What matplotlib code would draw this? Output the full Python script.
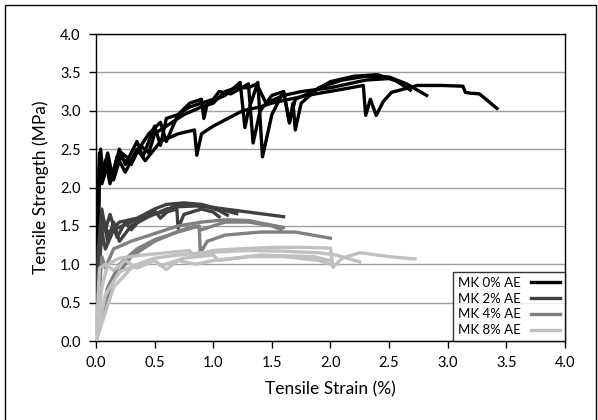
import matplotlib
matplotlib.use("Agg")
import matplotlib.pyplot as plt
from matplotlib.patches import Rectangle

plt.rcParams.update({"font.family": "Lato", "font.size": 10})

# strain (%) / stress (MPa), one list pair per specimen
K1_x = [0, 0.02, 0.03, 0.05, 0.08, 0.12, 0.18, 0.25, 0.35, 0.42, 0.55, 0.7, 0.84, 0.86, 0.9,
        1.0, 1.1, 1.25, 1.4, 1.5, 1.65, 1.8, 1.91, 2.1, 2.28, 2.3, 2.34, 2.39, 2.45, 2.52,
        2.74, 2.95, 3.13, 3.15, 3.19, 3.27, 3.35, 3.42]
K1_y = [0, 1.5, 2.45, 2.1, 2.35, 2.05, 2.4, 2.2, 2.5, 2.35, 2.6, 2.7, 2.75, 2.42, 2.7,
        2.8, 2.88, 3.0, 3.05, 3.1, 3.15, 3.2, 3.23, 3.28, 3.33, 2.94, 3.15, 2.94, 3.12, 3.24,
        3.33, 3.33, 3.32, 3.24, 3.23, 3.22, 3.12, 3.03]
K2_x = [0, 0.02, 0.04, 0.06, 0.1, 0.13, 0.2, 0.25, 0.35, 0.4, 0.5, 0.55, 0.6, 0.7, 0.8, 0.9,
        0.92, 0.95, 1.1, 1.23, 1.27, 1.3, 1.38, 1.42, 1.5, 1.6, 1.65, 1.68, 1.7, 1.75, 1.9,
        2.1, 2.3, 2.5, 2.65, 2.82]
K2_y = [0, 2.0, 2.5, 2.15, 2.4, 2.1, 2.5, 2.3, 2.6, 2.4, 2.8, 2.55, 2.9, 2.95, 3.1, 3.15,
        2.9, 3.1, 3.2, 3.37, 2.78, 3.0, 3.37, 2.4, 2.95, 3.25, 2.85, 3.1, 2.75, 3.1, 3.3,
        3.4, 3.45, 3.44, 3.35, 3.2]
K3_x = [0, 0.03, 0.05, 0.1, 0.15, 0.22, 0.3, 0.45, 0.55, 0.6, 0.7, 0.8, 1.0, 1.05, 1.15,
        1.3, 1.34, 1.4, 1.5, 1.6, 1.65, 1.7, 1.85, 2.0, 2.2, 2.4, 2.55, 2.68]
K3_y = [0, 2.3, 2.05, 2.3, 2.1, 2.45, 2.35, 2.7, 2.85, 2.6, 2.95, 3.05, 3.15, 3.25, 3.22,
        3.35, 2.58, 3.0, 3.2, 3.25, 2.84, 3.15, 3.25, 3.38, 3.45, 3.47, 3.4, 3.27]
K4_x = [0, 0.03, 0.06, 0.1, 0.14, 0.2, 0.3, 0.38, 0.45, 0.5, 0.6, 0.75, 0.9, 1.0, 1.1, 1.2,
        1.3, 1.37, 1.45, 1.6, 1.75, 2.0, 2.3, 2.5, 2.62]
K4_y = [0, 2.4, 2.2, 2.45, 2.15, 2.4, 2.3, 2.55, 2.45, 2.7, 2.8, 2.95, 3.05, 3.1, 3.25, 3.3,
        3.3, 3.35, 3.1, 3.2, 3.25, 3.3, 3.4, 3.42, 3.36]

D1_x = [0, 0.02, 0.05, 0.08, 0.12, 0.18, 0.25, 0.3, 0.4, 0.5, 0.55, 0.65, 0.8, 0.95, 1.05, 1.12]
D1_y = [0, 1.2, 1.72, 1.45, 1.65, 1.35, 1.55, 1.45, 1.62, 1.7, 1.6, 1.75, 1.78, 1.75, 1.7, 1.64]
D2_x = [0, 0.03, 0.06, 0.1, 0.15, 0.2, 0.3, 0.45, 0.6, 0.7, 0.85, 1.0, 1.2, 1.4, 1.6]
D2_y = [0, 1.0, 1.6, 1.3, 1.55, 1.3, 1.5, 1.62, 1.72, 1.75, 1.76, 1.74, 1.7, 1.66, 1.62]
D3_x = [0, 0.04, 0.08, 0.15, 0.3, 0.45, 0.6, 0.69, 0.7, 0.75, 0.9, 1.0, 1.05]
D3_y = [0, 1.5, 1.2, 1.45, 1.55, 1.65, 1.68, 1.72, 1.47, 1.65, 1.72, 1.68, 1.62]
D4_x = [0, 0.05, 0.1, 0.2, 0.35, 0.5, 0.6, 0.75, 0.9, 1.1, 1.2]
D4_y = [0, 1.65, 1.4, 1.55, 1.6, 1.72, 1.78, 1.8, 1.78, 1.7, 1.66]

M1_x = [0, 0.1, 0.2, 0.35, 0.5, 0.7, 0.88, 0.89, 0.95, 1.1, 1.4, 1.7, 2.0]
M1_y = [0, 0.7, 1.0, 1.2, 1.32, 1.42, 1.5, 1.15, 1.3, 1.38, 1.42, 1.42, 1.34]
M2_x = [0, 0.05, 0.08, 0.15, 0.3, 0.5, 0.7, 0.9, 1.1, 1.3, 1.6]
M2_y = [0, 1.1, 0.95, 1.2, 1.3, 1.4, 1.5, 1.55, 1.58, 1.57, 1.48]
M3_x = [0, 0.15, 0.3, 0.5, 0.7, 0.85, 0.9, 1.1, 1.3, 1.5, 1.58]
M3_y = [0, 0.8, 1.1, 1.3, 1.43, 1.5, 1.45, 1.55, 1.55, 1.5, 1.45]

L1_x = [0, 0.03, 0.08, 0.15, 0.25, 0.35, 0.5, 0.6, 0.7, 0.85, 1.0, 1.3, 1.6, 1.9, 2.0]
L1_y = [0, 0.95, 1.0, 0.92, 1.05, 0.95, 1.05, 0.93, 1.05, 1.0, 1.05, 1.1, 1.1, 1.05, 1.0]
L2_x = [0, 0.05, 0.1, 0.2, 0.4, 0.6, 0.8, 0.82, 1.0, 1.2, 1.5, 1.8, 2.0, 2.02, 2.1, 2.25,
        2.5, 2.72]
L2_y = [0, 0.7, 1.0, 1.08, 1.12, 1.15, 1.18, 1.1, 1.18, 1.2, 1.22, 1.22, 1.21, 0.96, 1.08,
        1.15, 1.1, 1.07]
L3_x = [0, 0.08, 0.2, 0.35, 0.5, 0.7, 0.9, 1.3, 1.6, 1.9, 2.05, 2.25]
L3_y = [0, 0.6, 0.9, 1.0, 1.08, 1.12, 1.15, 1.18, 1.17, 1.15, 1.12, 1.03]
L4_x = [0, 0.15, 0.3, 0.5, 0.55, 0.75, 1.0, 1.05, 1.4, 1.85, 2.0]
L4_y = [0, 0.7, 0.95, 1.05, 0.98, 1.08, 1.12, 1.05, 1.12, 1.1, 1.05]

groups = [
    ("MK 0% AE", "#000000", [(K1_x, K1_y), (K2_x, K2_y), (K3_x, K3_y), (K4_x, K4_y)]),
    ("MK 2% AE", "#404040", [(D1_x, D1_y), (D2_x, D2_y), (D3_x, D3_y), (D4_x, D4_y)]),
    ("MK 4% AE", "#808080", [(M1_x, M1_y), (M2_x, M2_y), (M3_x, M3_y)]),
    ("MK 8% AE", "#c0c0c0", [(L1_x, L1_y), (L2_x, L2_y), (L3_x, L3_y), (L4_x, L4_y)]),
]

fig = plt.figure(figsize=(5.98, 4.2), dpi=100)
ax = fig.add_axes([0.1605, 0.188, 0.7843, 0.731])

for label, color, curves in groups:
    for i, (x, y) in enumerate(curves):
        ax.plot(x, y, color=color, lw=2.4, solid_joinstyle="round",
                label=label if i == 0 else None, zorder=3)

ax.set_xlim(0, 4)
ax.set_ylim(0, 4)
ax.set_xticks([0, 0.5, 1, 1.5, 2, 2.5, 3, 3.5, 4])
ax.set_yticks([0, 0.5, 1, 1.5, 2, 2.5, 3, 3.5, 4])
ax.xaxis.set_major_formatter(plt.FormatStrFormatter("%.1f"))
ax.yaxis.set_major_formatter(plt.FormatStrFormatter("%.1f"))
ax.tick_params(direction="out", length=5, width=1, labelsize=10.5, pad=6)
ax.yaxis.grid(True, color="#a0a0a0", lw=1)
ax.set_axisbelow(True)
for s in ax.spines.values():
    s.set_linewidth(1)
ax.set_xlabel("Tensile Strain (%)", fontsize=12.5, labelpad=8)
ax.set_ylabel("Tensile Strength (MPa)", fontsize=12.5, labelpad=8)

leg = ax.legend(loc="lower right", borderaxespad=0, markerfirst=False, fontsize=9.5,
                frameon=True, fancybox=False, handlelength=2.2, labelspacing=0.3,
                borderpad=0.35, handletextpad=0.8)
leg.get_frame().set_edgecolor("black")
leg.get_frame().set_linewidth(1)

# outer frame around the whole figure
fig.patches.append(Rectangle((5 / 598, -0.01), 591 / 598, 1 - 5 / 420 + 0.01,
                             transform=fig.transFigure, fill=False,
                             edgecolor="black", lw=1))

fig.savefig("out.png", dpi=100, facecolor="white")
